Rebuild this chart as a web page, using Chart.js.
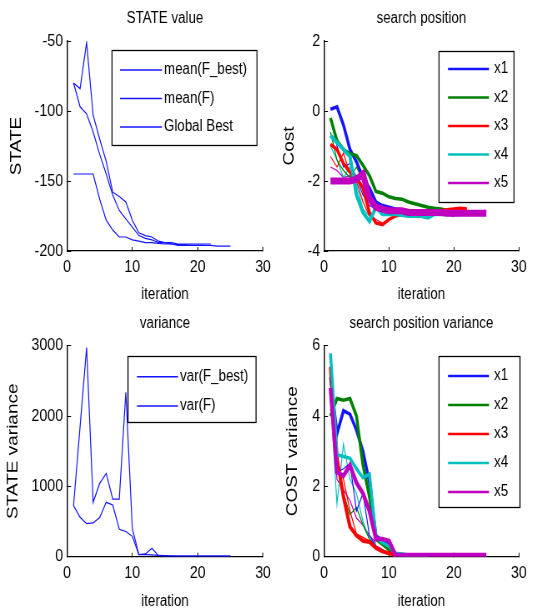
<!DOCTYPE html>
<html>
<head>
<meta charset="utf-8">
<script src="https://cdn.jsdelivr.net/npm/chart.js@4"></script>
<style>
    body { margin: 0; background: #fff; width: 535px; height: 612px; position: relative; overflow: hidden; }
    /* the original figure is squeezed sideways, so draw wide and scale down in x */
    canvas { position: absolute; transform: scaleX(0.8333); transform-origin: 0 0; }
</style>
</head>
<body>
<canvas id="state-chart" width="336" height="310" style="left:0;top:0"></canvas>
<canvas id="position-chart" width="328" height="310" style="left:262px;top:0"></canvas>
<canvas id="variance-chart" width="336" height="307" style="left:0;top:305px"></canvas>
<canvas id="position-variance-chart" width="328" height="307" style="left:262px;top:305px"></canvas>
<script>
// iteration numbers shared by every series
const iterations = [1, 2, 3, 4, 5, 6, 7, 8, 9, 10, 11, 12, 13, 14, 15, 16, 17, 18, 19, 20, 21, 22, 23, 24, 25];
const xTicks = [0, 10, 20, 30];

// STATE value
const meanFBest = [-80, -84, -51, -103, -120, -136, -158, -161, -165, -178, -187, -189, -190, -193, -194, -194, -195, -195, -195, -195, -195, -195];
const meanF = [-80, -97, -102, -115, -131, -145, -160, -171, -177, -183, -189, -191, -192, -194, -194, -195, -196, -196, -196, -196, -196];
const globalBest = [-145, -145, -145, -145, -163, -178, -185, -190, -190, -192, -193, -194, -194, -194.5, -195, -195, -195.5, -195.5, -196, -196, -196, -196, -196.5, -196.5, -196.5];

// search position (thick = mean, thin = one particle)
const posX1 = [0.05, 0.12, -0.4, -1.1, -1.45, -1.9, -2.2, -2.6, -2.7, -2.75, -2.8, -2.82, -2.85, -2.87, -2.88, -2.9, -2.9, -2.9, -2.92, -2.92, -2.92];
const posX2 = [-0.2, -0.85, -1.1, -1.22, -1.27, -1.55, -1.85, -2.3, -2.35, -2.45, -2.5, -2.52, -2.6, -2.65, -2.7, -2.75, -2.78, -2.8, -2.85, -3.0];
const posX3 = [-0.95, -1.1, -1.5, -1.75, -1.9, -2.2, -2.9, -3.2, -3.25, -3.1, -3.0, -2.95, -2.95, -2.9, -2.9, -2.88, -2.85, -2.85, -2.82, -2.8, -2.78, -2.8];
const posX4 = [-0.7, -0.9, -1.1, -1.3, -2.4, -2.9, -3.15, -2.75, -2.95, -2.95, -2.95, -2.97, -3.0, -3.0, -3.0, -3.05, -2.95, -2.95, -2.95, -2.95, -2.95];
const posX5 = [-2, -2, -2, -2, -1.95, -1.8, -2.5, -2.75, -2.8, -2.85, -2.85, -2.85, -2.9, -2.9, -2.9, -2.9, -2.9, -2.9, -2.92, -2.92, -2.92, -2.92, -2.92, -2.92, -2.92];
const posX1Thin = [-0.2, -1.0, -1.6, -1.5, -1.9, -2.4, -2.7, -2.8];
const posX2Thin = [-0.6, -1.4, -1.7, -1.9, -1.6, -2.0, -2.5];
const posX3Thin = [-1.3, -1.6, -1.2, -1.8, -2.0, -2.6, -3.0, -3.1, -3.2];
const posX4Thin = [-1.0, -1.4, -1.9, -1.6, -2.1, -2.8, -3.0];
const posX5Thin = [-1.6, -1.7, -1.9, -1.85, -2.0, -1.75, -2.3, -2.6];

// variance
const varFBest = [725, 1850, 2975, 773, 1042, 1184, 820, 820, 2338, 400, 30, 40, 120, 15, 10, 10, 10, 10, 10, 10, 10, 10, 10, 10, 10];
const varF = [725, 560, 470, 480, 556, 773, 735, 390, 358, 290, 30, 30, 25, 20, 15, 12, 10, 10, 10, 10, 10, 10, 10, 10, 10];

// search position variance
const varX1 = [5.1, 3.5, 4.15, 4.05, 3.6, 3.0, 2.1, 0.6, 0.45, 0.35, 0.1, 0.05, 0.03];
const varX2 = [4.0, 4.5, 4.45, 4.5, 4.0, 2.6, 1.7, 0.5, 0.35, 0.2, 0.0];
const varX3 = [5.4, 2.8, 1.7, 0.85, 0.6, 0.45, 0.42, 0.25, 0.15, 0.1, 0.05];
const varX4 = [5.78, 2.9, 2.85, 2.8, 2.5, 2.25, 2.35, 0.55, 0.4, 0.3, 0.1, 0.08, 0.05, 0.05, 0.05, 0.05];
const varX5 = [4.8, 2.4, 2.3, 2.6, 2.1, 1.8, 1.3, 0.5, 0.5, 0.45, 0.05, 0.05, 0.05, 0.05, 0.05, 0.05, 0.05, 0.05, 0.05, 0.05, 0.05, 0.05, 0.05, 0.05, 0.05];
const varX1Thin = [4.8, 2.4, 2.5, 2.65, 1.3, 1.8, 0.6, 0.3, 0.2, 0.1];
const varX2Thin = [4.2, 2.8, 1.8, 1.2, 1.4, 0.9, 0.5, 0.3];
const varX3Thin = [5.0, 2.6, 2.2, 1.3, 0.65, 0.55, 0.45, 0.3, 0.2];
const varX4Thin = [4.5, 1.5, 3.2, 2.2, 1.8, 1.0, 0.5, 0.35];
const varX5Thin = [4.6, 2.2, 1.9, 1.6, 1.1, 0.9, 0.6, 0.4];

const SQUEEZE = 1.2;   // canvas px per screen px, horizontally
const fontFamily = "'Liberation Sans', Arial, sans-serif";
const BLUE = '#1414ff', GREEN = '#008000', RED = '#ff0000', CYAN = '#00bfbf', MAGENTA = '#bf00bf';

function series(values, color, width, label, order) {
    return {
        label: label,
        data: values.map((v, i) => ({ x: iterations[i], y: v })),
        borderColor: color,
        borderWidth: width,
        order: order
    };
}

// matlab style legend box drawn inside the axes
const boxLegend = {
    id: 'boxLegend',
    afterDraw(chart, args, opts) {
        const ctx = chart.ctx;
        const k = SQUEEZE;
        const items = chart.data.datasets.filter(d => d.label);
        ctx.save();
        ctx.fillStyle = '#fff';
        ctx.fillRect(opts.left * k, opts.top, opts.width * k, opts.height);
        ctx.strokeStyle = '#000';
        ctx.lineWidth = 1.3;
        ctx.strokeRect(opts.left * k, opts.top + 0.5, opts.width * k, opts.height);
        ctx.font = '16px ' + fontFamily;
        ctx.textBaseline = 'middle';
        items.forEach((d, i) => {
            const y = opts.top + opts.firstRow + i * opts.rowGap;
            ctx.strokeStyle = d.borderColor;
            ctx.lineWidth = opts.lineWidth;
            ctx.beginPath();
            ctx.moveTo(opts.lineStart * k, y);
            ctx.lineTo(opts.lineEnd * k, y);
            ctx.stroke();
            ctx.fillStyle = '#000';
            ctx.fillText(d.label, opts.textX * k, y);
        });
        ctx.restore();
    }
};

function makePanel(id, p) {
    const k = SQUEEZE;
    return new Chart(document.getElementById(id), {
        type: 'line',
        data: { datasets: p.datasets },
        options: {
            responsive: false,
            animation: false,
            devicePixelRatio: 1,
            layout: { padding: { left: 0, top: 0, right: p.padRight * k, bottom: 0 } },
            elements: { point: { radius: 0 }, line: { tension: 0 } },
            plugins: {
                legend: { display: false },
                tooltip: { enabled: false },
                title: {
                    display: true,
                    text: p.title,
                    fullSize: false,
                    color: '#000',
                    font: { family: fontFamily, size: 16, weight: 'normal', lineHeight: 1.2 },
                    padding: { top: 8.7, bottom: p.titleBottom }
                },
                boxLegend: p.legend
            },
            scales: {
                x: {
                    type: 'linear',
                    min: 0,
                    max: 30,
                    afterBuildTicks: s => { s.ticks = xTicks.map(v => ({ value: v })); },
                    afterFit: s => { s.height = p.xHeight; },
                    ticks: { color: '#000', font: { family: fontFamily, size: 17 }, padding: 10.4, maxRotation: 0, callback: v => String(v) },
                    grid: { drawOnChartArea: false, tickLength: -4, color: '#000' },
                    border: { color: '#000', width: 1.2 },
                    title: {
                        display: true,
                        text: 'iteration',
                        color: '#000',
                        font: { family: fontFamily, size: 16, lineHeight: 1.2 },
                        padding: { top: 0, bottom: p.xTitleBottom }
                    }
                },
                y: {
                    min: p.yMin,
                    max: p.yMax,
                    afterBuildTicks: s => { s.ticks = p.yTicks.map(v => ({ value: v })); },
                    afterFit: s => { s.width = p.yWidth * k; },
                    ticks: { color: '#000', font: { family: fontFamily, size: 17 }, padding: 8 * k, callback: v => String(v) },
                    grid: { drawOnChartArea: false, tickLength: -4 * k, color: '#000' },
                    border: { color: '#000', width: 1.2 * k },
                    title: {
                        display: true,
                        text: p.yTitle,
                        color: '#000',
                        font: { family: fontFamily, size: 19, lineHeight: 1.2 },
                        padding: { top: p.yTitlePad * k - 11.4 * (k - 1), bottom: 0 }
                    }
                }
            }
        },
        plugins: [boxLegend]
    });
}

makePanel('state-chart', {
    title: 'STATE value',
    yTitle: 'STATE',
    yMin: -200, yMax: -50, yTicks: [-200, -150, -100, -50],
    yWidth: 67, padRight: 17, titleBottom: 13.1, xHeight: 59, xTitleBottom: 5.4, yTitlePad: 8.6,
    datasets: [
        series(meanFBest, BLUE, 1.2, 'mean(F_best)', 1),
        series(meanF, BLUE, 1.2, 'mean(F)', 2),
        series(globalBest, BLUE, 1.2, 'Global Best', 3)
    ],
    legend: { left: 112, top: 50, width: 145, height: 95, firstRow: 20, rowGap: 28.5, lineStart: 120, lineEnd: 162, textX: 164, lineWidth: 1.5 }
});

makePanel('position-chart', {
    title: 'search position',
    yTitle: 'Cost',
    yMin: -4, yMax: 2, yTicks: [-4, -2, 0, 2],
    yWidth: 62, padRight: 14, titleBottom: 13.1, xHeight: 59, xTitleBottom: 5.4, yTitlePad: 19.9,
    datasets: [
        series(posX1, BLUE, 3.5, 'x1', 5),
        series(posX2, GREEN, 3.5, 'x2', 4),
        series(posX3, RED, 3.5, 'x3', 3),
        series(posX4, CYAN, 4, 'x4', 2),
        series(posX5, MAGENTA, 7, 'x5', 1),
        series(posX1Thin, BLUE, 1.2, '', 6),
        series(posX2Thin, GREEN, 1.2, '', 6),
        series(posX3Thin, RED, 1.2, '', 6),
        series(posX4Thin, CYAN, 1.2, '', 6),
        series(posX5Thin, MAGENTA, 1.2, '', 6)
    ],
    legend: { left: 177, top: 51, width: 75, height: 151, firstRow: 18, rowGap: 28.5, lineStart: 186, lineEnd: 227, textX: 232, lineWidth: 2.5 }
});

makePanel('variance-chart', {
    title: 'variance',
    yTitle: 'STATE variance',
    yMin: 0, yMax: 3000, yTicks: [0, 1000, 2000, 3000],
    yWidth: 67, padRight: 17, titleBottom: 12.8, xHeight: 55.3, xTitleBottom: 0.4, yTitlePad: 5.9,
    datasets: [
        series(varFBest, BLUE, 1.2, 'var(F_best)', 1),
        series(varF, BLUE, 1.2, 'var(F)', 2)
    ],
    legend: { left: 128, top: 51, width: 128, height: 66, firstRow: 20.7, rowGap: 29.3, lineStart: 137, lineEnd: 178, textX: 180, lineWidth: 1.5 }
});

makePanel('position-variance-chart', {
    title: 'search position variance',
    yTitle: 'COST variance',
    yMin: 0, yMax: 6, yTicks: [0, 2, 4, 6],
    yWidth: 62, padRight: 14, titleBottom: 12.8, xHeight: 55.3, xTitleBottom: 0.4, yTitlePad: 23.3,
    datasets: [
        series(varX1, BLUE, 3.5, 'x1', 5),
        series(varX2, GREEN, 3.5, 'x2', 4),
        series(varX3, RED, 4, 'x3', 3),
        series(varX4, CYAN, 3.5, 'x4', 2),
        series(varX5, MAGENTA, 4.5, 'x5', 1),
        series(varX1Thin, BLUE, 1.2, '', 6),
        series(varX2Thin, GREEN, 1.2, '', 6),
        series(varX3Thin, RED, 1.2, '', 6),
        series(varX4Thin, CYAN, 1.2, '', 6),
        series(varX5Thin, MAGENTA, 1.2, '', 6)
    ],
    legend: { left: 177, top: 51, width: 81, height: 151, firstRow: 20, rowGap: 29, lineStart: 186, lineEnd: 227, textX: 232, lineWidth: 2.5 }
});
</script>
</body>
</html>
